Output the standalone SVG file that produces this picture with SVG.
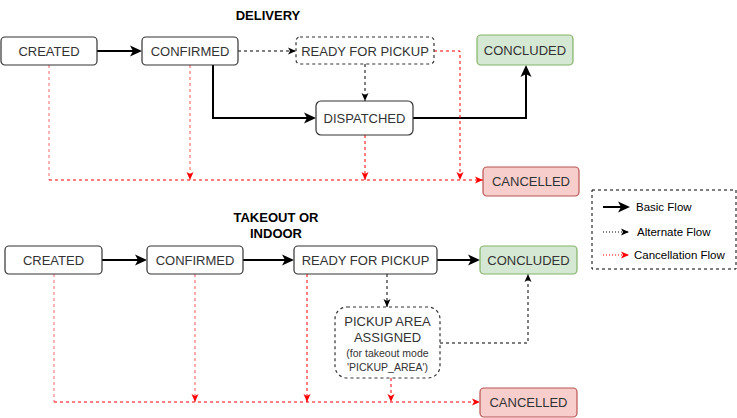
<svg xmlns="http://www.w3.org/2000/svg" width="737" height="418" viewBox="0 0 737 418">
<style>
.n{fill:#fff;stroke:#333;stroke-width:1.2}
.nd{fill:#fff;stroke:#333;stroke-width:1.2;stroke-dasharray:3 3}
.ok{fill:#d5e8d4;stroke:#82b366;stroke-width:1.2}
.ko{fill:#f8cecc;stroke:#b85450;stroke-width:1.2}
.t{font-family:"Liberation Sans",Arial,sans-serif;font-size:13px;fill:#333;text-anchor:middle}
.s{font-family:"Liberation Sans",Arial,sans-serif;font-size:10.5px;fill:#333;text-anchor:middle}
.h{font-family:"Liberation Sans",Arial,sans-serif;font-size:13px;font-weight:bold;fill:#000;text-anchor:middle}
.l{font-family:"Liberation Sans",Arial,sans-serif;font-size:11.5px;fill:#000}
.b{fill:none;stroke:#000;stroke-width:2;marker-end:url(#aB)}
.a{fill:none;stroke:#000;stroke-width:1;stroke-dasharray:3 3;marker-end:url(#aA)}
.g{fill:none;stroke:#555;stroke-width:1.5;stroke-dasharray:3 3;marker-end:url(#aA)}
.r{fill:none;stroke:#ff0000;stroke-width:1;stroke-dasharray:3 3;marker-end:url(#aR)}
.rp{fill:none;stroke:#ff8080;stroke-width:1.2;stroke-dasharray:3 3}
</style>
<defs>
<marker id="aB" markerUnits="userSpaceOnUse" markerWidth="12" markerHeight="12" viewBox="0 0 12 12" refX="8" refY="6" orient="auto"><path d="M0,0.5 L12,6 L0,11.5 L3,6 Z" fill="#000"/></marker>
<marker id="aA" markerUnits="userSpaceOnUse" markerWidth="8" markerHeight="8" viewBox="0 0 8 8" refX="8" refY="4" orient="auto"><path d="M0,0.5 L8,4 L0,7.5 L2,4 Z" fill="#000"/></marker>
<marker id="aR" markerUnits="userSpaceOnUse" markerWidth="8" markerHeight="8" viewBox="0 0 8 8" refX="8" refY="4" orient="auto"><path d="M0,0.5 L8,4 L0,7.5 L2,4 Z" fill="#ff0000"/></marker>
</defs>

<text class="h" x="268" y="20">DELIVERY</text>
<text class="h" x="276" y="222">TAKEOUT OR</text>
<text class="h" x="276" y="238">INDOOR</text>

<g id="connectors">
<!-- delivery -->
<path class="b" d="M97,51 H138"/>
<path class="a" d="M238,51 H296"/>
<path class="b" d="M213,65 V118 H312"/>
<path class="g" d="M365,64 V101"/>
<path class="b" d="M413,118 H526 V69"/>
<path class="rp" d="M49,65 V180"/>
<path class="r" d="M49,180 H483"/>
<path class="r" style="stroke:#ff5555" d="M190,65 V180"/>
<path class="r" d="M365,135 V180"/>
<path class="r" d="M434,51 H460 V180"/>
<!-- takeout -->
<path class="b" d="M102,260 H143"/>
<path class="b" d="M243,260 H290"/>
<path class="b" d="M437,260 H476"/>
<path class="a" d="M387,274 V307"/>
<path class="g" d="M440,343 H528 V274"/>
<path class="rp" d="M54,274 V402"/>
<path class="r" d="M54,402 H480"/>
<path class="r" style="stroke:#ff5555" d="M195,274 V402"/>
<path class="r" d="M307,274 V402"/>
<path class="r" d="M391,378 V402"/>
</g>

<g id="d-created"><rect class="n" x="1" y="37" width="96" height="28" rx="4"/><text class="t" x="49" y="56">CREATED</text></g>
<g id="d-confirmed"><rect class="n" x="142" y="37" width="96" height="28" rx="4"/><text class="t" x="190" y="56">CONFIRMED</text></g>
<g id="d-ready"><rect class="nd" x="296" y="37" width="138" height="27" rx="4"/><text class="t" x="365" y="55.5">READY FOR PICKUP</text></g>
<g id="d-concluded"><rect class="ok" x="477" y="35" width="96" height="30" rx="4"/><text class="t" x="525" y="55">CONCLUDED</text></g>
<g id="d-dispatched"><rect class="n" x="316" y="101" width="97" height="34" rx="5"/><text class="t" x="364.5" y="122.5">DISPATCHED</text></g>
<g id="d-cancelled"><rect class="ko" x="483" y="167" width="96" height="29" rx="4"/><text class="t" x="531" y="186">CANCELLED</text></g>

<g id="t-created"><rect class="n" x="5" y="246" width="97" height="28" rx="4"/><text class="t" x="53.5" y="264.5">CREATED</text></g>
<g id="t-confirmed"><rect class="n" x="147" y="246" width="96" height="28" rx="4"/><text class="t" x="195" y="264.5">CONFIRMED</text></g>
<g id="t-ready"><rect class="n" x="294" y="246" width="143" height="28" rx="4"/><text class="t" x="365.5" y="264.5">READY FOR PICKUP</text></g>
<g id="t-concluded"><rect class="ok" x="480" y="246" width="97" height="28" rx="4"/><text class="t" x="528.5" y="264.5">CONCLUDED</text></g>
<g id="t-pickup"><rect class="nd" x="335" y="307" width="105" height="71" rx="12"/>
<text class="t" x="387.5" y="326">PICKUP AREA</text>
<text class="t" x="387.5" y="341.5">ASSIGNED</text>
<text class="s" x="387.5" y="356.5">(for takeout mode</text>
<text class="s" x="387.5" y="370.5">'PICKUP_AREA')</text></g>
<g id="t-cancelled"><rect class="ko" x="480" y="388" width="97" height="29" rx="4"/><text class="t" x="528.5" y="407">CANCELLED</text></g>

<g id="legend">
<rect x="592" y="190" width="144" height="79" fill="#fff" stroke="#000" stroke-width="1" stroke-dasharray="3 3"/>
<path d="M603,207 H626" fill="none" stroke="#000" stroke-width="2" marker-end="url(#aB)"/>
<text class="l" x="636" y="211">Basic Flow</text>
<path d="M603,232 H629" fill="none" stroke="#000" stroke-width="1" stroke-dasharray="1 2" marker-end="url(#aA)"/>
<text class="l" x="637" y="236">Alternate Flow</text>
<path d="M603,255 H629" fill="none" stroke="#ff0000" stroke-width="1" stroke-dasharray="1 2" marker-end="url(#aR)"/>
<text class="l" x="634" y="259">Cancellation Flow</text>
</g>
</svg>
